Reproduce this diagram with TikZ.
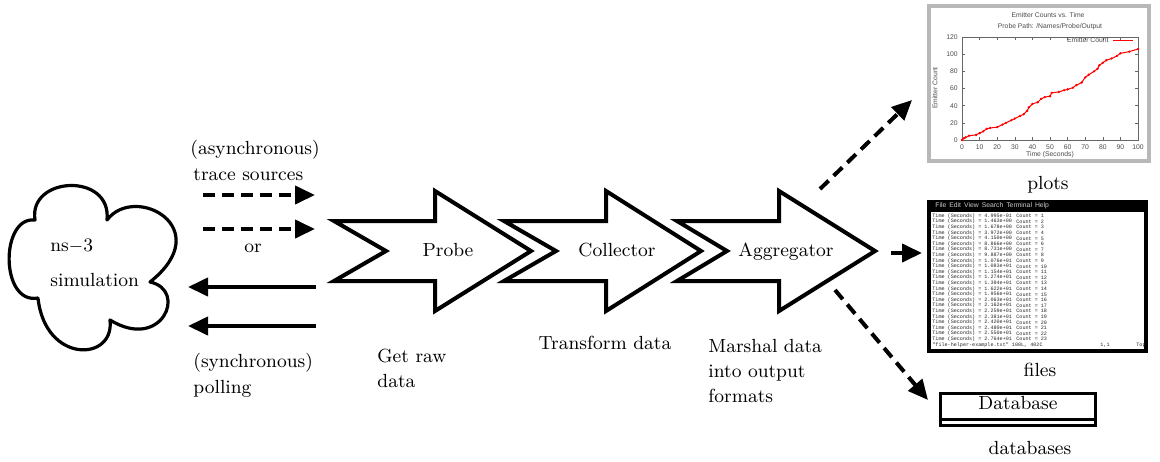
\documentclass[tikz,border=0pt]{standalone}
\usepackage{fontspec}
\newfontfamily\termfont{Liberation Mono}
\newfontfamily\plotfont{Liberation Sans}
\usetikzlibrary{arrows.meta}
\setmainfont{Latin Modern Roman}
\newcommand\chevarrow[5]{% name, tail, notch, base, tip
  \draw[bigarr] (#2,221) -- (#4,221) -- (#4,191) -- (#5,251) -- (#4,311) -- (#4,281) -- (#2,281) -- (#3,251) -- cycle;
  \coordinate (#1) at ({(#3+#4)/2},251);
}
\begin{document}
\begin{tikzpicture}[x=0.5pt,y=-0.5pt,
  lbl/.style={font=\fontsize{9.5}{12.5}\selectfont, inner sep=0pt},
  bigarr/.style={draw=black, line width=2pt, fill=white, line join=miter, miter limit=10},
  flow/.style={line width=2pt, -{Triangle[length=10pt,width=9pt]}},
  dflow/.style={flow, dash pattern=on 6pt off 3.5pt},
  tiny/.style={font=\plotfont\fontsize{3.4}{3.6}\selectfont, inner sep=0pt, text=black!70},
  term/.style={font=\termfont\fontsize{2.55}{2.8}\selectfont, inner sep=0pt, text=black!85, anchor=west},
]
\useasboundingbox (0,0) rectangle (1160,461);

% cloud
\coordinate (c1) at (35,220); \coordinate (c2) at (107,220); \coordinate (c3) at (150,282);
\coordinate (c4) at (110,320); \coordinate (c5) at (38,298);
\draw[line width=1.6pt, line join=round] (c1)
  .. controls (28,176) and (112,172) .. (c2)
  .. controls (135,183) and (218,228) .. (c3)
  .. controls (188,290) and (162,352) .. (c4)
  .. controls (115,362) and (45,364) .. (c5)
  .. controls (0,305) and (0,216) .. (c1) -- cycle;
\node[lbl, anchor=base west] (ns) at (50,251) {ns$-$3};
\node[lbl, anchor=base west] (simtxt) at (50,286) {simulation};

% asynchronous / synchronous arrows
\coordinate (d1s) at (203,195); \coordinate (d1e) at (315,195);
\coordinate (d2s) at (203,229); \coordinate (d2e) at (315,229);
\coordinate (s1s) at (316,287); \coordinate (s1e) at (188,287);
\coordinate (s2s) at (316,326); \coordinate (s2e) at (188,326);
\draw[dflow] (d1s) -- (d1e);
\draw[dflow] (d2s) -- (d2e);
\draw[flow] (s1s) -- (s1e);
\draw[flow] (s2s) -- (s2e);
\node[lbl, anchor=base west] (async) at (190,154) {(asynchronous)};
\node[lbl, anchor=base west] (trace) at (193,180) {trace sources};
\node[lbl, anchor=base] (or) at (253,252) {or};
\node[lbl, anchor=base west] (sync) at (193,367) {(synchronous)};
\node[lbl, anchor=base west] (poll) at (193,393) {polling};

% big arrows
\chevarrow{probe}{334}{386}{435}{531}
\chevarrow{coll}{504}{556}{606}{701}
\chevarrow{agg}{677}{727}{779}{875}
\node[lbl, anchor=base] (probetxt) at (448,256) {Probe};
\node[lbl, anchor=base] (colltxt) at (617,256) {Collector};
\node[lbl, anchor=base] (aggtxt) at (786,256) {Aggregator};
\node[lbl, anchor=base west] (gr1) at (377,362) {Get raw};
\node[lbl, anchor=base west] (gr2) at (377,387) {data};
\node[lbl, anchor=base] (tf) at (605,349) {Transform data};
\node[lbl, anchor=base west] (m1) at (708,352) {Marshal data};
\node[lbl, anchor=base west] (m2) at (708,377) {into output};
\node[lbl, anchor=base west] (m3) at (708,402) {formats};

% plot
\node[draw=black!28, line width=1.6pt, fill=white, minimum width=110pt, minimum height=77.5pt, inner sep=0pt] (plotbox) at (1039,83.5) {};
\node[tiny] (ptitle) at (1048,15) {Emitter Counts vs. Time};
\node[tiny] (ppath) at (1050,27) {Probe Path: /Names/Probe/Output};
\draw[black!60, line width=0.3pt] (962,37) rectangle (1138,140);
\foreach \v in {0,20,...,120} {
  \pgfmathsetmacro\yy{140-0.858*\v}
  \draw[black!60, line width=0.3pt] (962,\yy) -- (965,\yy) (1138,\yy) -- (1135,\yy);
  \node[tiny, anchor=east] at (958,\yy) {\v};
}
\foreach \v in {0,10,...,100} {
  \pgfmathsetmacro\xx{962+1.76*\v}
  \draw[black!60, line width=0.3pt] (\xx,140) -- (\xx,137) (\xx,37) -- (\xx,40);
  \node[tiny] at (\xx,147) {\v};
}
\node[tiny] (pxl) at (1050,155) {Time (Seconds)};
\node[tiny, rotate=90] (pyl) at (935,88) {Emitter Count};
\node[tiny, anchor=east] (leg) at (1109,40) {Emitter Count};
\draw[red, line width=0.5pt] (1113,40) -- (1133,40);
\begin{scope}[shift={(962,140)}, x=0.88pt, y=0.429pt]
  \draw[red, line width=0.5pt, mark=*, mark size=0.3pt] plot coordinates {
    (0,0) (1,2) (2,3) (4,5) (8,6) (10,8) (12,10) (14,13) (16,14) (20,15) (23,18) (25,20) (28,23) (30,25) (33,28) (35,30) (37,34) (38,38) (40,42) (43,44) (45,48) (47,50) (50,51) (51,55) (55,56) (58,58) (60,59) (63,61) (65,64) (68,67) (70,73) (72,76) (75,80) (77,83) (78,87) (80,90) (82,93) (85,95) (88,98) (90,101) (95,103) (100,106)};
\end{scope}
\node[lbl, anchor=base] (plots) at (1048,189) {plots};

% terminal
\node[fill=black, minimum width=110.5pt, minimum height=76.5pt, inner sep=0pt] (termbox) at (1037.5,276.5) {};
\fill[white] (931,212) rectangle (1144,349);
\node[font=\plotfont\fontsize{3.4}{3.6}\selectfont, text=black!20, anchor=west, inner sep=0pt] (menu) at (935,206) {File\, Edit\, View\, Search\, Terminal\, Help};
\foreach \t [count=\i] in {4.995e-01,1.463e+00,1.678e+00,3.972e+00,4.150e+00,8.866e+00,8.731e+00,9.887e+00,1.076e+01,1.083e+01,1.154e+01,1.274e+01,1.394e+01,1.622e+01,1.956e+01,2.063e+01,2.162e+01,2.259e+01,2.381e+01,2.420e+01,2.480e+01,2.550e+01,2.764e+01} {
  \pgfmathsetmacro\yy{216+(\i-1)*5.6}
  \node[term] at (932,\yy) {Time (Seconds) = \t};
  \node[term] at (1016,\yy) {Count = \i};
}
\node[term] (status) at (932,345) {"file-helper-example.txt" 100L, 402C};
\node[term] at (1100,345) {1,1};
\node[term] at (1136,345) {Top};
\node[lbl, anchor=base] (files) at (1040,376) {files};

% database
\node[draw, line width=1.5pt, minimum width=77.5pt, minimum height=16pt, inner sep=0pt] (db) at (1017.5,409) {};
\draw[line width=1.5pt] (940,419.5) -- (1095,419.5);
\node[lbl, anchor=base] (dbtxt) at (1018,409) {Database};
\node[lbl, anchor=base] (dbs) at (1030,454) {databases};

% output arrows
\coordinate (o1s) at (820,189); \coordinate (o1e) at (912,100);
\coordinate (o2s) at (891,253); \coordinate (o2e) at (922,253);
\coordinate (o3s) at (835,290); \coordinate (o3e) at (928,400);
\draw[dflow] (o1s) -- (o1e);
\draw[dflow] (o2s) -- (o2e);
\draw[dflow] (o3s) -- (o3e);
\end{tikzpicture}
\end{document}
